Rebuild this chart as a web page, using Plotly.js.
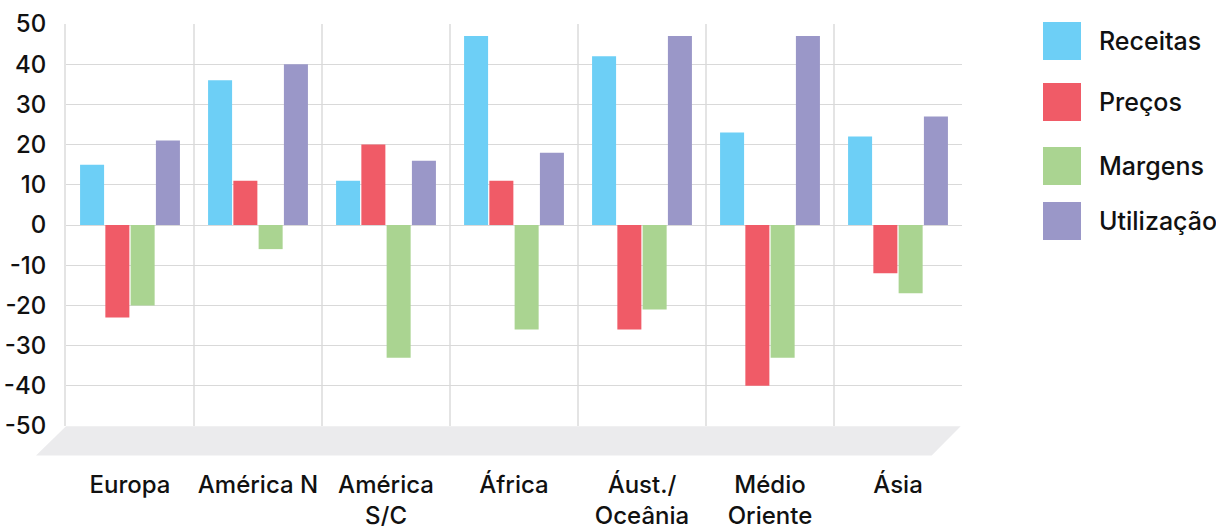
<!DOCTYPE html>
<html>
<head>
<meta charset="utf-8">
<script src="https://cdn.plot.ly/plotly-3.0.1.min.js"></script>
<style>
  html, body { margin: 0; padding: 0; background: #ffffff; }
  #chart { width: 1216px; height: 526px; }
</style>
</head>
<body>
<div id="chart"></div>
<script>
// Regions (category labels, with line breaks for two-line names)
const regions = ['Europa', 'América N', 'América<br>S/C', 'África', 'Áust./<br>Oceânia', 'Médio<br>Oriente', 'Ásia'];

// Series values per region
const receitas   = [15, 36, 11, 47, 42, 23, 22];
const precos     = [-23, 11, 20, 11, -26, -40, -12];
const margens    = [-20, -6, -33, -26, -21, -33, -17];
const utilizacao = [21, 40, 16, 18, 47, 47, 27];

// Series names and colours
const seriesNames  = ['Receitas', 'Preços', 'Margens', 'Utilização'];
const seriesColors = ['#6dcff6', '#f05b67', '#aad491', '#9a97c8'];
const seriesValues = [receitas, precos, margens, utilizacao];

// Y axis ticks
const yTicks = [-50, -40, -30, -20, -10, 0, 10, 20, 30, 40, 50];

// Page geometry
const W = 1216, H = 526;
const M = { l: 66, r: 254, t: 24, b: 100 };
const plotW = W - M.l - M.r, plotH = H - M.t - M.b;
const px2x = px => (px - M.l) / plotW;
const px2y = py => (H - M.b - py) / plotH;

// Legend layout: vertical centres of the rows, square size
const legendRowsPx = [41, 102, 166, 221];
const legendBox = 38, legendBoxLeft = 1043, legendTextLeft = 1097;

const FONT = 'Inter, "Open Sans", "DejaVu Sans", sans-serif';
const INK = '#111111';
const TEXT = { family: FONT, size: 24, color: INK, weight: 500 };

const traces = seriesNames.map((name, i) => ({
  type: 'bar',
  name: name,
  x: regions,
  y: seriesValues[i],
  marker: { color: seriesColors[i], line: { width: 0 } },
  hoverinfo: 'x+y+name'
}));

const shapes = [
  // grey floor under the plot
  {
    type: 'path', xref: 'paper', yref: 'paper', layer: 'below',
    path: 'M ' + px2x(36) + ',' + px2y(455.5) +
          ' L ' + px2x(66) + ',' + px2y(426.3) +
          ' L ' + px2x(960.7) + ',' + px2y(426.3) +
          ' L ' + px2x(931.7) + ',' + px2y(455.5) + ' Z',
    fillcolor: '#ebebed', line: { width: 0 }
  }
];
const annotations = [];

seriesNames.forEach((name, i) => {
  const cy = legendRowsPx[i];
  shapes.push({
    type: 'rect', xref: 'paper', yref: 'paper',
    x0: px2x(legendBoxLeft), x1: px2x(legendBoxLeft + legendBox),
    y0: px2y(cy + legendBox / 2), y1: px2y(cy - legendBox / 2),
    fillcolor: seriesColors[i], line: { width: 0 }
  });
  annotations.push({
    xref: 'paper', yref: 'paper',
    x: px2x(legendTextLeft), y: px2y(cy),
    xanchor: 'left', yanchor: 'middle',
    text: name, showarrow: false,
    font: Object.assign({}, TEXT, { size: 25 })
  });
});

const layout = {
  width: W, height: H,
  margin: M,
  paper_bgcolor: '#ffffff',
  plot_bgcolor: '#ffffff',
  showlegend: false,
  barmode: 'group',
  bargap: 0.21,
  bargroupgap: 0.05,
  font: TEXT,
  xaxis: {
    type: 'category',
    tickson: 'boundaries',
    tickangle: 0,
    showgrid: true,
    gridcolor: '#e4e4e4',
    gridwidth: 2,
    ticks: '',
    showline: false,
    zeroline: false,
    ticklabelstandoff: 42,
    tickfont: TEXT,
    fixedrange: true
  },
  yaxis: {
    range: [-50, 50],
    tickvals: yTicks,
    ticktext: yTicks.map(String),
    showgrid: true,
    gridcolor: '#d9d9d9',
    gridwidth: 1,
    zeroline: true,
    zerolinecolor: '#d9d9d9',
    zerolinewidth: 1,
    ticks: '',
    showline: true,
    linecolor: '#e4e4e4',
    linewidth: 2,
    ticklabelstandoff: 13,
    tickfont: TEXT,
    fixedrange: true
  },
  shapes: shapes,
  annotations: annotations
};

Plotly.newPlot('chart', traces, layout, { displayModeBar: false, staticPlot: true });
</script>
</body>
</html>
